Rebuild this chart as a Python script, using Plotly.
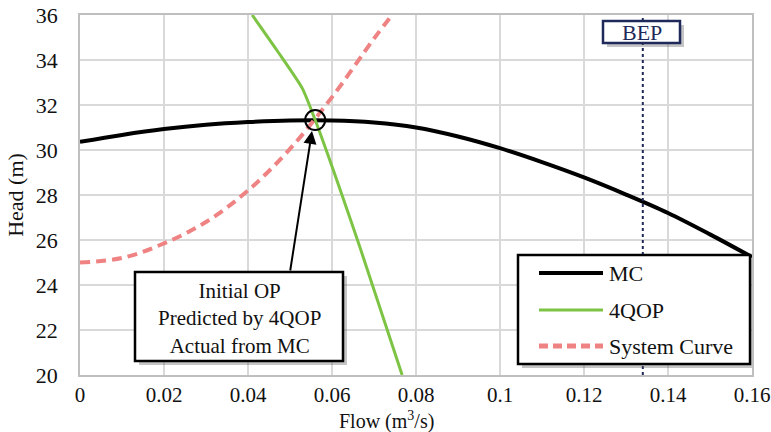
import plotly.graph_objects as go

# ---- data ----
mc_flow = [0, 0.01, 0.02, 0.03, 0.04, 0.05, 0.06, 0.07, 0.08, 0.09, 0.10, 0.11, 0.12, 0.13, 0.14, 0.15, 0.16]
mc_head = [30.36, 30.67, 30.93, 31.12, 31.24, 31.31, 31.31, 31.22, 31.0, 30.6, 30.08, 29.46, 28.78, 28.02, 27.2, 26.25, 25.24]

q4_flow = [0.041, 0.047, 0.0529, 0.056, 0.0667, 0.0767]
q4_head = [36.0, 34.4, 32.75, 31.33, 25.65, 20.0]

sys_flow = [0, 0.01, 0.02, 0.03, 0.04, 0.05, 0.06, 0.07, 0.0743]
sys_head = [25.0, 25.2, 25.85, 26.8, 28.2, 30.05, 32.35, 34.95, 36.0]

op_flow = [0.056]
op_head = [31.33]

bep_flow = 0.134

x_ticks = [0, 0.02, 0.04, 0.06, 0.08, 0.10, 0.12, 0.14, 0.16]
x_ticktext = ["0", "0.02", "0.04", "0.06", "0.08", "0.1", "0.12", "0.14", "0.16"]
y_ticks = [20, 22, 24, 26, 28, 30, 32, 34, 36]
y_ticktext = [str(v) for v in y_ticks]

series_names = ["MC", "4QOP", "System Curve"]
note_text = "Initial OP<br>Predicted by 4QOP<br>Actual from MC"
x_title = "Flow (m<sup>3</sup>/s)"
y_title = "Head (m)"

# ---- styles ----
FONT = "Liberation Serif, Times New Roman, serif"
TXT = "#111111"
BLACK = "#000000"
GREEN = "#7dc344"
RED = "#ef8383"
NAVY = "#1f2a5a"
GRID = "#d9d9d9"
SHADOW = "rgba(90,90,90,0.35)"
DASH = "10px,6px"

fig = go.Figure()
fig.add_trace(go.Scatter(x=mc_flow, y=mc_head, mode="lines", name=series_names[0],
                         line=dict(color=BLACK, width=4, shape="spline"), showlegend=False))
fig.add_trace(go.Scatter(x=q4_flow, y=q4_head, mode="lines", name=series_names[1],
                         line=dict(color=GREEN, width=3, shape="spline", smoothing=0.6), showlegend=False))
fig.add_trace(go.Scatter(x=sys_flow, y=sys_head, mode="lines", name=series_names[2],
                         line=dict(color=RED, width=4, dash=DASH, shape="spline"), showlegend=False))
fig.add_trace(go.Scatter(x=op_flow, y=op_head, mode="markers", name="OP",
                         marker=dict(symbol="circle-open", size=20, color=BLACK, line=dict(width=2, color=BLACK)),
                         showlegend=False))

# pixel -> data helpers (plot area: x 80..752, y 15..375)
def px(xp):
    return (xp - 80) / 4200.0

def py(yp):
    return 36 - (yp - 15) / 22.5

shapes = []
# BEP dotted line
shapes.append(dict(type="line", xref="x", yref="y", x0=bep_flow, x1=bep_flow, y0=20, y1=36,
                   line=dict(color=NAVY, width=2, dash="dot"), layer="above"))

def boxed(x0p, y0p, x1p, y1p, color, width):
    return [dict(type="rect", xref="x", yref="y", x0=px(x0p + 4), x1=px(x1p + 4), y0=py(y1p + 4), y1=py(y0p + 4),
                 fillcolor=SHADOW, line=dict(width=0), layer="above"),
            dict(type="rect", xref="x", yref="y", x0=px(x0p), x1=px(x1p), y0=py(y1p), y1=py(y0p),
                 fillcolor="white", line=dict(color=color, width=width), layer="above")]

shapes += boxed(603, 21, 680, 43, NAVY, 2.5)       # BEP label box
shapes += boxed(135, 272, 343, 361, BLACK, 2.5)    # note box
shapes += boxed(518, 255, 750, 364, BLACK, 2.5)    # legend box

# legend samples
leg_rows = [273, 310, 346]
leg_styles = [dict(color=BLACK, width=4), dict(color=GREEN, width=3), dict(color=RED, width=5, dash="9px,5px")]
for yr, st in zip(leg_rows, leg_styles):
    shapes.append(dict(type="line", xref="x", yref="y", x0=px(539), x1=px(603), y0=py(yr), y1=py(yr),
                       line=st, layer="above"))

annotations = []
annotations.append(dict(x=px(641.5), y=py(32.5), xref="x", yref="y", text="BEP", showarrow=False,
                        font=dict(family=FONT, size=22, color=NAVY), xanchor="center", yanchor="middle"))
annotations.append(dict(x=px(239), y=py(318), xref="x", yref="y", text=note_text, showarrow=False,
                        font=dict(family=FONT, size=21, color=TXT), xanchor="center", yanchor="middle"))
annotations.append(dict(x=px(312), y=py(131), ax=px(290), ay=py(272), xref="x", yref="y", axref="x", ayref="y",
                        text="", showarrow=True, arrowhead=2, arrowsize=1.3, arrowwidth=2, arrowcolor=BLACK))
for yr, name in zip(leg_rows, series_names):
    annotations.append(dict(x=px(607), y=py(yr), xref="x", yref="y", text=name, showarrow=False,
                            font=dict(family=FONT, size=22, color=TXT), xanchor="left", yanchor="middle"))
# x axis title
annotations.append(dict(x=px(386), y=(375 - 420) / 360.0, xref="x", yref="paper", text=x_title, showarrow=False,
                        font=dict(family=FONT, size=20, color=TXT), xanchor="center", yanchor="middle"))

fig.update_layout(
    width=771, height=432,
    margin=dict(l=80, r=19, t=15, b=57),
    paper_bgcolor="white", plot_bgcolor="white",
    font=dict(family=FONT, size=22, color=TXT),
    shapes=shapes, annotations=annotations,
    showlegend=False,
)
fig.update_xaxes(range=[0, 0.16], tickvals=x_ticks, ticktext=x_ticktext, showgrid=True, gridcolor=GRID, gridwidth=1.5,
                 zeroline=False, showline=True, linecolor="#bfbfbf", linewidth=1.5, mirror=True, automargin=False,
                 ticks="", ticklabeloverflow="allow",
                 tickfont=dict(family=FONT, size=21, color=TXT))
fig.update_yaxes(range=[20, 36], tickvals=y_ticks, ticktext=y_ticktext, showgrid=True, gridcolor=GRID, gridwidth=1.5,
                 zeroline=False, showline=True, linecolor="#bfbfbf", linewidth=1.5, mirror=True, automargin=False,
                 ticks="outside", ticklen=16, tickcolor="rgba(0,0,0,0)", ticklabeloverflow="allow",
                 tickfont=dict(family=FONT, size=22, color=TXT),
                 title=dict(text=y_title, font=dict(family=FONT, size=22, color=TXT), standoff=6))

fig.write_html("out.html")
